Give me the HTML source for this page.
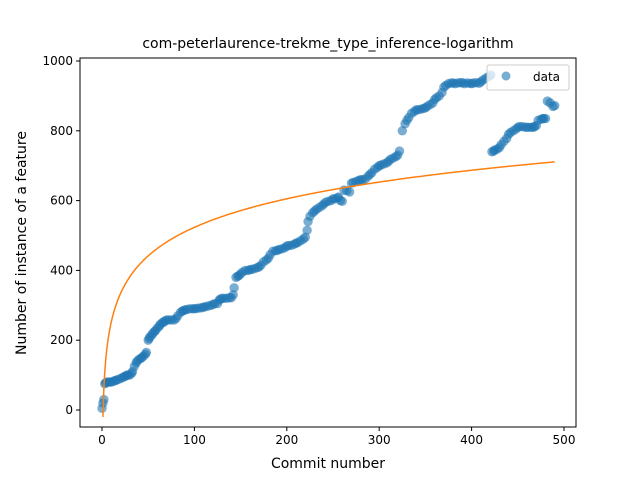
<!DOCTYPE html>
<html><head><meta charset="utf-8"><style>
body{margin:0;background:#fff;}
svg{display:block;font-family:"DejaVu Sans","Liberation Sans",sans-serif;}
</style></head><body>
<svg id="chart" width="640" height="480">
<rect width="640" height="480" fill="#fff"/>
<text x="328" y="48" text-anchor="middle" font-size="14">com-peterlaurence-trekme_type_inference-logarithm</text>
<g id="plot"></g>
<text x="328" y="468" text-anchor="middle" font-size="14">Commit number</text>
<text transform="translate(26,243) rotate(-90)" text-anchor="middle" font-size="14">Number of instance of a feature</text>
<g>
<rect x="487" y="65" width="82" height="25" rx="2" fill="#fff" fill-opacity="0.8" stroke="#ccc"/>
<circle cx="506" cy="76" r="4.5" fill="#1f77b4" fill-opacity="0.6"/>
<text x="533" y="81" font-size="12">data</text>
</g>
</svg>
<script>
const commits=[0,1,2,3,4,5,7,8,10,12,14,15,17,20,22,24,25,27,28,30,32,33,35,37,38,40,42,43,45,47,48,50,51,52,54,55,57,58,60,62,63,65,67,68,70,72,75,78,80,82,85,87,88,90,92,95,98,100,102,105,108,110,112,115,118,120,122,125,127,128,130,132,135,138,140,142,143,145,147,148,150,152,155,158,160,162,165,168,170,172,175,178,180,182,185,188,190,192,195,198,200,202,205,208,210,212,215,218,220,222,223,225,228,230,232,235,238,240,242,245,248,250,252,255,256,258,260,262,265,268,270,272,275,278,280,282,285,288,290,292,295,298,300,302,305,308,310,312,315,318,320,322,325,328,330,332,335,338,340,342,345,348,350,352,355,358,360,362,365,368,370,372,375,378,380,382,385,388,390,392,395,398,400,402,405,408,410,412,415,418,420,421,422,424,425,428,430,432,435,438,440,442,445,448,450,452,455,458,460,462,465,467,468,470,472,475,477,478,480,482,485,488,490];
const values=[5,20,30,75,78,80,80,80,80,82,84,85,87,90,93,95,97,100,100,100,105,110,125,135,140,145,148,150,155,160,165,200,205,210,215,220,225,228,235,240,245,250,252,255,258,258,258,258,262,270,280,283,285,287,288,290,290,290,291,292,293,295,296,298,300,302,305,305,315,318,320,320,320,322,322,330,350,380,383,385,390,395,400,400,402,403,405,408,410,415,425,430,435,445,455,456,458,460,462,465,470,471,472,475,478,480,485,490,495,515,540,555,565,570,575,580,585,590,595,598,600,605,605,608,610,600,598,630,628,625,650,652,655,658,660,660,662,670,675,680,690,695,700,702,705,708,712,718,722,726,730,742,800,820,830,838,850,855,860,860,862,864,866,870,875,880,890,895,900,910,925,930,935,937,937,935,937,938,938,935,937,936,935,937,938,936,940,945,950,955,958,960,740,742,745,748,752,760,770,778,790,795,800,805,810,812,812,810,810,810,810,810,812,815,830,833,835,835,835,885,880,870,872,871,870];
const xTicks=[0,100,200,300,400,500];
const yTicks=[0,200,400,600,800,1000];
const fitA=118, fitB=-20, fitMax=490;
const L=80,R=576,T=58,B=427;
const x=v=>102+0.924*v;
const y=v=>410-0.349*v;
const ns="http://www.w3.org/2000/svg";
const g=document.getElementById('plot');
function mk(t,a){const e=document.createElementNS(ns,t);for(const k in a)e.setAttribute(k,a[k]);g.appendChild(e);return e;}
for(let i=0;i<commits.length;i++){
 const c=mk('circle',{cx:x(commits[i]),cy:y(values[i]),r:4.7,fill:'#1f77b4','fill-opacity':0.6});
 
 
}
let d='';
for(let c=1;c<=fitMax;c+=1){d+=(c==1?'M':'L')+x(c).toFixed(2)+','+y(fitA*Math.log(c)+fitB).toFixed(2);}
const p=mk('path',{d:d,fill:'none',stroke:'#ff7f0e','stroke-width':1.5});


const fr=mk('rect',{x:L,y:T,width:R-L,height:B-T,fill:'none',stroke:'#000','stroke-width':1});


xTicks.forEach(v=>{
 const l=mk('line',{x1:x(v),x2:x(v),y1:B,y2:B+4,stroke:'#000'});
 
 
 const t=mk('text',{x:x(v),y:B+17,'text-anchor':'middle','font-size':12});
 t.textContent=v;
 
 
});
yTicks.forEach(v=>{
 const l=mk('line',{x1:L-4,x2:L,y1:y(v),y2:y(v),stroke:'#000'});
 
 
 const t=mk('text',{x:L-7,y:y(v)+4,'text-anchor':'end','font-size':12});
 t.textContent=v;
 
 
});
</script>
</body></html>
